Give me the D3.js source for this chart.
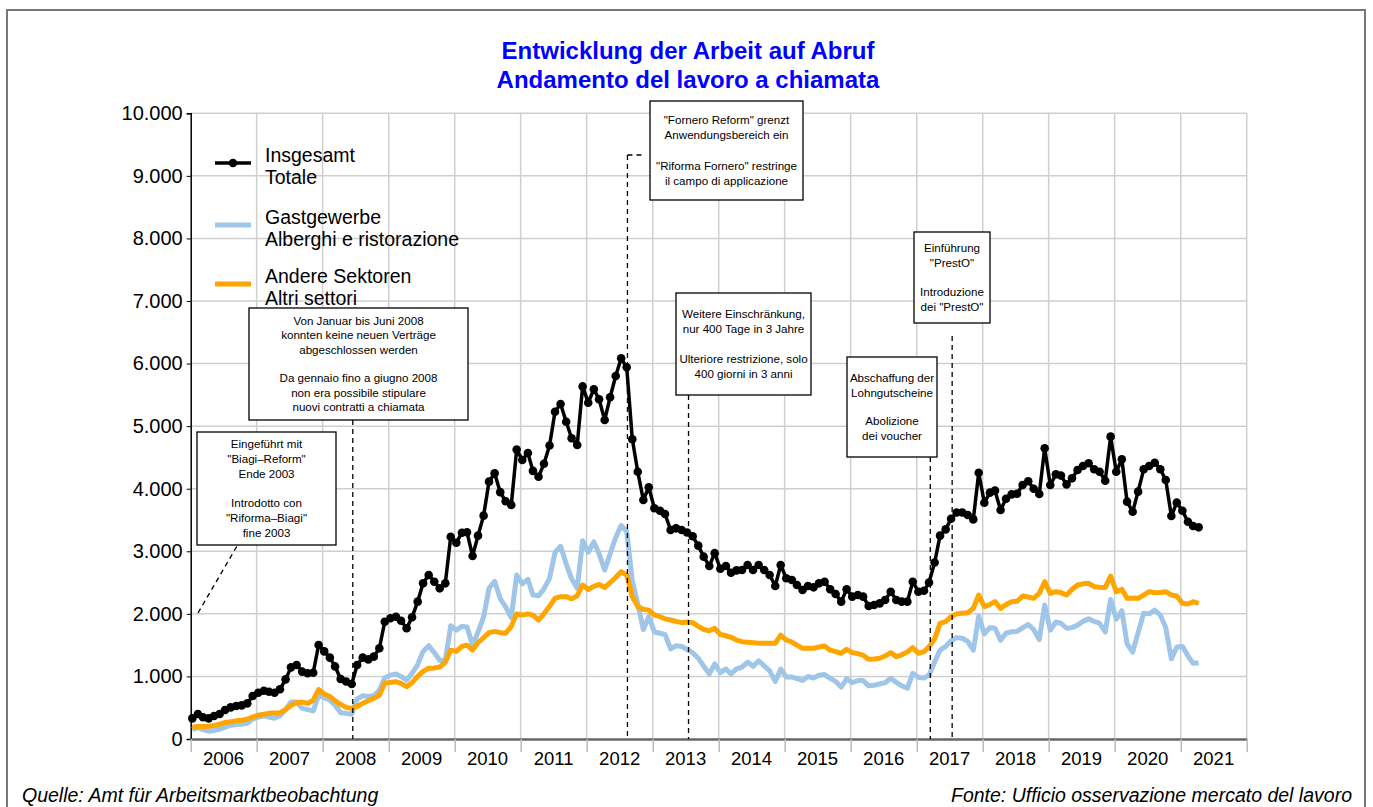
<!DOCTYPE html>
<html><head><meta charset="utf-8">
<script src="https://cdn.jsdelivr.net/npm/d3@7"></script>
<style>
body{margin:0;background:#fff;}
svg{display:block;font-family:"Liberation Sans",Arial,Helvetica,sans-serif;}
</style></head>
<body><svg id="chart" width="1373" height="807"></svg>
<script>
// ---- data (monthly, Jan 2006 .. Apr 2021) ----
const startYear = 2006, startMonth = 0;
const total = [330,400,347,330,368,400,463,506,527,537,570,687,740,772,756,740,794,953,1145,1183,1076,1050,1060,1502,
1400,1300,1160,960,920,880,1183,1300,1273,1316,1450,1875,1929,1955,1891,1769,1945,2195,2488,2621,2514,2408,2488,3233,
3137,3297,3305,2925,3250,3570,4113,4246,3945,3800,3740,4625,4460,4570,4285,4192,4400,4690,5231,5354,5071,4806,4699,5635,
5375,5589,5429,5098,5461,5801,6084,5940,4790,4272,3820,4023,3687,3649,3596,3340,3367,3340,3300,3240,3090,2914,2765,2970,
2720,2765,2658,2695,2701,2781,2701,2781,2701,2621,2445,2781,2568,2541,2461,2381,2445,2424,2488,2514,2392,2317,2195,2392,
2275,2301,2275,2126,2142,2168,2222,2354,2222,2195,2195,2514,2354,2370,2500,2820,3250,3350,3520,3620,3620,3580,3510,4256,
3777,3937,3969,3660,3840,3910,3920,4060,4120,4000,3916,4646,4059,4230,4210,4070,4166,4300,4363,4406,4310,4272,4128,4832,
4272,4470,3793,3633,3953,4310,4363,4416,4310,4139,3564,3777,3649,3473,3404,3383];
const hospitality = [150,185,150,125,135,155,190,220,230,235,250,320,350,370,350,330,370,470,590,590,490,470,450,700,
660,620,540,420,410,395,640,690,680,690,780,980,1020,1040,1000,940,1050,1190,1400,1490,1380,1260,1250,1810,
1740,1800,1790,1500,1710,1950,2410,2520,2245,2110,1940,2620,2480,2550,2300,2290,2400,2570,2980,3080,2800,2560,2410,3170,
2985,3150,2960,2700,2960,3220,3410,3320,2520,2160,1750,1960,1710,1690,1670,1440,1490,1480,1430,1380,1290,1165,1040,1200,
1060,1120,1040,1120,1150,1230,1160,1250,1170,1090,920,1120,990,990,965,935,1000,975,1020,1030,970,920,830,960,
900,935,935,850,860,880,900,970,905,850,810,1050,985,975,1020,1230,1420,1480,1570,1620,1610,1560,1420,1960,
1680,1780,1770,1580,1690,1715,1720,1775,1830,1750,1590,2140,1740,1870,1850,1770,1780,1820,1880,1920,1880,1850,1710,2230,
1915,2050,1520,1390,1700,2010,2000,2060,1980,1780,1280,1470,1480,1330,1210,1220];
const otherSectors = [187,200,200,205,215,235,265,275,290,300,315,350,380,395,410,415,420,470,540,580,590,570,620,790,
720,680,610,550,505,490,520,570,610,650,700,890,905,916,890,836,900,1000,1080,1130,1135,1150,1230,1420,
1400,1480,1500,1420,1540,1620,1700,1720,1700,1690,1800,2000,1980,2000,1980,1900,2000,2120,2250,2275,2275,2240,2290,2461,
2390,2440,2470,2420,2500,2580,2674,2621,2275,2115,2073,2060,1982,1955,1920,1902,1880,1859,1870,1859,1800,1750,1730,1769,
1670,1650,1625,1580,1555,1548,1540,1529,1530,1529,1529,1662,1582,1550,1500,1449,1449,1449,1470,1486,1420,1395,1369,1434,
1380,1365,1340,1274,1280,1290,1326,1380,1316,1345,1390,1460,1369,1395,1475,1600,1849,1875,1955,2000,2010,2019,2088,2301,
2115,2150,2195,2088,2150,2195,2200,2285,2270,2248,2328,2514,2328,2354,2340,2301,2390,2461,2480,2488,2434,2424,2420,2605,
2354,2392,2248,2248,2248,2300,2354,2338,2340,2354,2301,2285,2168,2158,2195,2168];

const yTicks = [0,1000,2000,3000,4000,5000,6000,7000,8000,9000,10000];
const yearLabels = ["2006","2007","2008","2009","2010","2011","2012","2013","2014","2015","2016","2017","2018","2019","2020","2021"];

const titleLines = ["Entwicklung der Arbeit auf Abruf","Andamento del lavoro a chiamata"];
const legendItems = [
  {de:"Insgesamt", it:"Totale", color:"#000000", dot:true},
  {de:"Gastgewerbe", it:"Alberghi e ristorazione", color:"#9fc5e8", dot:false},
  {de:"Andere Sektoren", it:"Altri settori", color:"#ffa500", dot:false}
];
const annotations = [
  {date:"2008-06-16", lines:["Von Januar bis Juni 2008","konnten keine neuen Verträge","abgeschlossen werden","","Da gennaio fino a giugno 2008","non era possibile stipulare","nuovi contratti a chiamata"]},
  {date:"2012-08-14", lines:["\"Fornero Reform\" grenzt","Anwendungsbereich ein","","\"Riforma Fornero\" restringe","il campo di applicazione"]},
  {date:"2013-07-18", lines:["Weitere Einschränkung,","nur 400 Tage in 3 Jahre","","Ulteriore restrizione, solo","400 giorni in 3 anni"]},
  {date:"2017-03-17", lines:["Abschaffung der","Lohngutscheine","","Abolizione","dei voucher"]},
  {date:"2017-07-16", lines:["Einführung","\"PrestO\"","","Introduzione","dei \"PrestO\""]}
];
const biagiLines = ["Eingeführt mit","\"Biagi–Reform\"","Ende 2003","","Introdotto con","\"Riforma–Biagi\"","fine 2003"];
const sourceLeft = "Quelle: Amt für Arbeitsmarktbeobachtung";
const sourceRight = "Fonte: Ufficio osservazione mercato del lavoro";

// ---- chart ----
const svg = d3.select("#chart");
const X0 = 190.7, X1 = 1246.7, Y0 = 739, Y1 = 113.3;
const x = d3.scaleTime().domain([new Date(2006,0,1), new Date(2022,0,1)]).range([X0, X1]);
const y = d3.scaleLinear().domain([0,10000]).range([Y0, Y1]);
const dateOf = i => new Date(startYear, startMonth + i, 10);
const parse = d3.timeParse("%Y-%m-%d");

// frame
svg.append("rect").attr("x",7).attr("y",10).attr("width",1358).attr("height",805)
  .attr("fill","none").attr("stroke","#777").attr("stroke-width",2);

// title
svg.selectAll(".title").data(titleLines).join("text")
  .attr("x",688).attr("y",(d,i)=>59+i*28.5).attr("text-anchor","middle")
  .attr("font-size",24).attr("font-weight","bold").attr("fill","#0000ff").text(d=>d);

// gridlines
const yearBounds = d3.range(2007,2023).map(yr=>new Date(yr,0,1));
svg.append("g").selectAll("line").data(yTicks.filter(d=>d>0)).join("line")
  .attr("x1",X0).attr("x2",X1).attr("y1",d=>y(d)).attr("y2",d=>y(d))
  .attr("stroke","#cfcfcf").attr("stroke-width",1.5);
svg.append("g").selectAll("line").data(yearBounds).join("line")
  .attr("x1",d=>x(d)).attr("x2",d=>x(d)).attr("y1",Y1).attr("y2",Y0)
  .attr("stroke","#cfcfcf").attr("stroke-width",1.5);

// y axis
const fmt = d => d3.format(",")(d).replace(/,/g,".");
const yAxis = svg.append("g").attr("transform",`translate(${X0},0)`)
  .call(d3.axisLeft(y).tickValues(yTicks).tickFormat(fmt).tickSize(4).tickPadding(4));
yAxis.select(".domain").attr("stroke","#000").attr("stroke-width",1.5);
yAxis.selectAll("text").attr("font-size",20).attr("fill","#000").attr("font-family","Liberation Sans, Arial, sans-serif");

// x axis
const xAxis = svg.append("g").attr("transform",`translate(0,${Y0})`)
  .call(d3.axisBottom(x).tickValues(d3.range(2006,2023).map(yr=>new Date(yr,0,1))).tickFormat("").tickSize(13).tickSizeOuter(0));
xAxis.select(".domain").attr("stroke","#666").attr("stroke-width",2.5);
xAxis.selectAll(".tick line").attr("stroke","#bbb").attr("stroke-width",1.5);
svg.append("g").selectAll("text").data(yearLabels).join("text")
  .attr("x",d=>x(new Date(+d,6,2))).attr("y",765).attr("text-anchor","middle")
  .attr("font-size",18.5).attr("fill","#000").text(d=>d);

// series
const mk = arr => arr.map((v,i)=>({date:dateOf(i), v}));
const line = d3.line().x(d=>x(d.date)).y(d=>y(d.v));
svg.append("path").datum(mk(hospitality)).attr("d",line).attr("fill","none")
  .attr("stroke","#9fc5e8").attr("stroke-width",5).attr("stroke-linejoin","round");
svg.append("path").datum(mk(otherSectors)).attr("d",line).attr("fill","none")
  .attr("stroke","#ffa500").attr("stroke-width",5).attr("stroke-linejoin","round");
svg.append("path").datum(mk(total)).attr("d",line).attr("fill","none")
  .attr("stroke","#000").attr("stroke-width",3.5).attr("stroke-linejoin","round");
svg.append("g").selectAll("circle").data(mk(total)).join("circle")
  .attr("cx",d=>x(d.date)).attr("cy",d=>y(d.v)).attr("r",4.3).attr("fill","#000");

// legend
const lg = svg.append("g");
legendItems.forEach((it,i)=>{
  const ly = [163,225,284][i];
  lg.append("line").attr("x1",215).attr("x2",251).attr("y1",ly).attr("y2",ly)
    .attr("stroke",it.color).attr("stroke-width",it.dot?3.5:5);
  if(it.dot) lg.append("circle").attr("cx",233).attr("cy",ly).attr("r",4.3).attr("fill","#000");
  lg.append("text").attr("x",265).attr("y",ly-1).attr("font-size",19.5).text(it.de);
  lg.append("text").attr("x",265).attr("y",ly+21).attr("font-size",19.5).text(it.it);
});

// annotation boxes
const boxSpecs = [
  {x:249,y:308,w:219,h:112,lh:14.3},
  {x:650,y:101,w:153,h:99,lh:15.2},
  {x:676,y:293,w:135,h:102,lh:15.2},
  {x:847,y:357,w:90,h:100,lh:14.3},
  {x:914,y:232,w:76,h:91,lh:14.8}
];
const dashTop = [420,155,395,457,336];
function drawBox(b, lines){
  svg.append("rect").attr("x",b.x).attr("y",b.y).attr("width",b.w).attr("height",b.h)
    .attr("fill","#fff").attr("stroke","#000").attr("stroke-width",1.3);
  const n = lines.length, mid = b.y + b.h/2;
  lines.forEach((t,j)=>{
    svg.append("text").attr("x",b.x+b.w/2).attr("y",mid + (j-(n-1)/2)*b.lh + 4)
      .attr("text-anchor","middle").attr("font-size",11.6).attr("fill","#000").text(t);
  });
}
annotations.forEach((a,i)=>{
  const ax = x(parse(a.date));
  svg.append("line").attr("x1",ax).attr("x2",ax).attr("y1",dashTop[i]).attr("y2",Y0)
    .attr("stroke","#000").attr("stroke-width",1.3).attr("stroke-dasharray","5,4");
  if(i===1){
    svg.append("line").attr("x1",ax).attr("x2",boxSpecs[i].x-5).attr("y1",155).attr("y2",155)
      .attr("stroke","#000").attr("stroke-width",1.3).attr("stroke-dasharray","5,4");
  }
  drawBox(boxSpecs[i], a.lines);
});
// Biagi box (outside data range)
svg.append("line").attr("x1",198).attr("y1",613).attr("x2",237).attr("y2",546)
  .attr("stroke","#000").attr("stroke-width",1.3).attr("stroke-dasharray","5,4");
drawBox({x:197,y:432,w:139,h:113,lh:14.8}, biagiLines);

// footer
svg.append("text").attr("x",22).attr("y",801.5).attr("font-size",19.5).attr("font-style","italic").text(sourceLeft);
svg.append("text").attr("x",1352).attr("y",801.5).attr("text-anchor","end").attr("font-size",19.5).attr("font-style","italic").text(sourceRight);
</script></body></html>
